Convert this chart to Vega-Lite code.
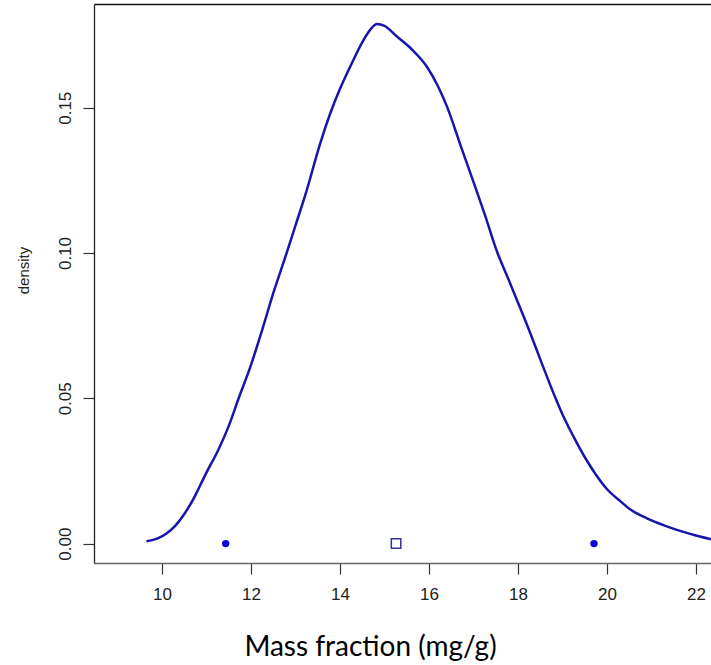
{
  "$schema": "https://vega.github.io/schema/vega-lite/v6.json",
  "width": 617,
  "height": 559,
  "autosize": {"type": "none"},
  "padding": {"left": 94, "top": 4, "right": 0, "bottom": 102},
  "background": "white",
  "config": {"view": {"stroke": null}, "font": "Liberation Sans"},
  "datasets": {
    "curve": [
      {"x": 9.65, "density": 0.0008},
      {"x": 9.9, "density": 0.0018},
      {"x": 10.1, "density": 0.0035},
      {"x": 10.3, "density": 0.0062},
      {"x": 10.5, "density": 0.0102},
      {"x": 10.7, "density": 0.0152},
      {"x": 10.85, "density": 0.0198},
      {"x": 11.0, "density": 0.0245},
      {"x": 11.25, "density": 0.0318},
      {"x": 11.5, "density": 0.0405},
      {"x": 11.71, "density": 0.0495},
      {"x": 12.0, "density": 0.0615},
      {"x": 12.25, "density": 0.0735},
      {"x": 12.5, "density": 0.0862},
      {"x": 12.79, "density": 0.0995},
      {"x": 13.0, "density": 0.1095},
      {"x": 13.25, "density": 0.1215},
      {"x": 13.55, "density": 0.1375},
      {"x": 13.78, "density": 0.148},
      {"x": 14.0, "density": 0.1565},
      {"x": 14.25, "density": 0.1648},
      {"x": 14.5, "density": 0.1725},
      {"x": 14.7, "density": 0.1772},
      {"x": 14.83, "density": 0.1788},
      {"x": 15.0, "density": 0.1782},
      {"x": 15.28, "density": 0.1745},
      {"x": 15.6, "density": 0.1703},
      {"x": 15.95, "density": 0.1642},
      {"x": 16.2, "density": 0.1575},
      {"x": 16.41, "density": 0.1502},
      {"x": 16.7, "density": 0.1375},
      {"x": 17.0, "density": 0.1245},
      {"x": 17.25, "density": 0.1135},
      {"x": 17.53, "density": 0.1005},
      {"x": 17.8, "density": 0.0905},
      {"x": 18.0, "density": 0.083},
      {"x": 18.25, "density": 0.0735},
      {"x": 18.5, "density": 0.0635},
      {"x": 18.86, "density": 0.0495},
      {"x": 19.0, "density": 0.0445},
      {"x": 19.25, "density": 0.0368},
      {"x": 19.5, "density": 0.0298},
      {"x": 19.75, "density": 0.0238},
      {"x": 20.0, "density": 0.0188},
      {"x": 20.3, "density": 0.0146},
      {"x": 20.52, "density": 0.0118},
      {"x": 20.9, "density": 0.0087},
      {"x": 21.3, "density": 0.0062},
      {"x": 21.7, "density": 0.0041},
      {"x": 22.0, "density": 0.0028},
      {"x": 22.4, "density": 0.0013}
    ],
    "points": [
      {"x": 11.43, "density": 0, "kind": "bound"},
      {"x": 19.71, "density": 0, "kind": "bound"},
      {"x": 15.26, "density": 0, "kind": "centre"}
    ]
  },
  "resolve": {"axis": {"x": "independent"}},
  "layer": [
    {
      "data": {"name": "curve"},
      "mark": {"type": "line", "color": "#1616ac", "strokeWidth": 2.5, "clip": true, "interpolate": "monotone"},
      "encoding": {
        "x": {
          "field": "x", "type": "quantitative",
          "scale": {"domain": [8.47, 22.34], "nice": false, "zero": false},
          "axis": {
            "orient": "bottom", "values": [10, 12, 14, 16, 18, 20, 22], "grid": false,
            "domainColor": "#666", "domainWidth": 1.5, "tickColor": "#333", "tickSize": 11, "tickWidth": 1.2,
            "labelFontSize": 17, "labelColor": "#222", "labelPadding": 12, "labelFont": "Liberation Sans",
            "title": "Mass fraction (mg/g)", "titleFont": "Lato", "titleFontSize": 28, "titleFontWeight": "normal",
            "titleColor": "#000", "titleX": 276, "titleY": 92, "titleBaseline": "alphabetic", "titleAlign": "center"
          }
        },
        "y": {
          "field": "density", "type": "quantitative",
          "scale": {"domain": [-0.00668, 0.1857], "nice": false, "zero": false},
          "axis": {
            "values": [0, 0.05, 0.1, 0.15], "format": ".2f", "grid": false,
            "domainColor": "#222", "domainWidth": 1.3, "tickColor": "#333", "tickSize": 11, "tickWidth": 1.2,
            "labelAngle": -90, "labelAlign": "center", "labelBaseline": "bottom",
            "labelFontSize": 17, "labelColor": "#222", "labelPadding": 9,
            "title": "density", "titleFontSize": 15, "titleFontWeight": "normal", "titleColor": "#222",
            "titleAngle": -90, "titleAlign": "center", "titleBaseline": "bottom", "titleX": -63, "titleY": 266
          }
        }
      }
    },
    {
      "data": {"name": "points"},
      "transform": [{"filter": "datum.kind == 'bound'"}],
      "mark": {"type": "circle", "color": "#0a0ad2", "size": 55, "opacity": 1},
      "encoding": {
        "x": {"field": "x", "type": "quantitative", "axis": null},
        "y": {"field": "density", "type": "quantitative"}
      }
    },
    {
      "data": {"name": "points"},
      "transform": [{"filter": "datum.kind == 'centre'"}],
      "mark": {"type": "square", "filled": false, "color": "#333399", "size": 90, "strokeWidth": 1.5, "opacity": 1},
      "encoding": {
        "x": {"field": "x", "type": "quantitative", "axis": null},
        "y": {"field": "density", "type": "quantitative"}
      }
    },
    {
      "data": {"name": "points"},
      "mark": {"type": "point", "opacity": 0},
      "encoding": {
        "x": {
          "field": "x", "type": "quantitative",
          "axis": {"orient": "top", "ticks": false, "labels": false, "title": null, "grid": false, "domainColor": "#111", "domainWidth": 1.5}
        },
        "y": {"field": "density", "type": "quantitative"}
      }
    }
  ]
}
